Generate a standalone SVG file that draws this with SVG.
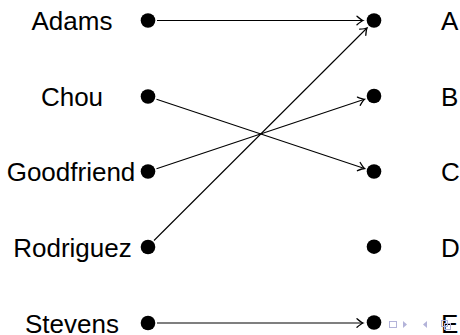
<svg xmlns="http://www.w3.org/2000/svg" width="460" height="335" viewBox="0 0 460 335">
<style>
.lbl{font-family:"Liberation Sans",Arial,sans-serif;font-size:26px;fill:#000}
.l{text-anchor:middle}
.dot{fill:#000}
.edge{stroke:#000;stroke-width:1.1;fill:none;marker-end:url(#ah)}
.nav{fill:#b3b3d9}
</style>
<defs>
<marker id="ah" markerUnits="userSpaceOnUse" markerWidth="12" markerHeight="12" viewBox="-6 -5 8 10" refX="0" refY="0" orient="auto">
<path d="M-5,-3.6 Q-1.5,-0.6 0,0 Q-1.5,0.6 -5,3.6" stroke="#000" stroke-width="1.1" fill="none" stroke-linecap="round"/>
</marker>
</defs>
<rect width="460" height="335" fill="#fff"/>
<g id="connectors">
<line class="edge" x1="157" y1="20.5" x2="363" y2="20.5"/>
<line class="edge" x1="156.5" y1="99.3" x2="364.5" y2="168.5"/>
<line class="edge" x1="156.5" y1="168.7" x2="364.5" y2="99.3"/>
<line class="edge" x1="154" y1="240.5" x2="367" y2="28"/>
<line class="edge" x1="157" y1="323" x2="363" y2="323"/>
</g>
<g id="adams"><circle class="dot" cx="148" cy="20.5" r="7.3"/><text class="lbl l" x="72" y="30">Adams</text></g>
<g id="chou"><circle class="dot" cx="148" cy="96.5" r="7.3"/><text class="lbl l" x="72" y="106">Chou</text></g>
<g id="goodfriend"><circle class="dot" cx="148" cy="171.5" r="7.3"/><text class="lbl l" x="71" y="181">Goodfriend</text></g>
<g id="rodriguez"><circle class="dot" cx="148" cy="247" r="7.3"/><text class="lbl l" x="72.5" y="256.5">Rodriguez</text></g>
<g id="stevens"><circle class="dot" cx="148" cy="323" r="7.3"/><text class="lbl l" x="72" y="332.5">Stevens</text></g>
<g id="a"><circle class="dot" cx="374" cy="20.5" r="7.3"/><text class="lbl" x="441" y="30">A</text></g>
<g id="b"><circle class="dot" cx="374" cy="96" r="7.3"/><text class="lbl" x="441" y="105.5">B</text></g>
<g id="c"><circle class="dot" cx="374" cy="171.5" r="7.3"/><text class="lbl" x="441" y="181">C</text></g>
<g id="d"><circle class="dot" cx="374" cy="246.7" r="7.3"/><text class="lbl" x="441" y="256.5">D</text></g>
<g id="e"><circle class="dot" cx="374" cy="322.5" r="7.3"/><text class="lbl" x="441" y="332.5">E</text></g>
<g id="navigation">
<rect x="389.5" y="321.5" width="7" height="6" fill="none" stroke="#b3b3d9" stroke-width="1"/>
<path class="nav" d="M403,321 L407,324.5 L403,328 Z"/>
<path class="nav" d="M427,321 L423,324.5 L427,328 Z"/>
<rect x="441.5" y="320.5" width="6" height="6" fill="none" stroke="#b3b3d9" stroke-width="1"/>
<rect x="444.5" y="323.5" width="6" height="6" fill="none" stroke="#b3b3d9" stroke-width="1"/>
</g>
</svg>
